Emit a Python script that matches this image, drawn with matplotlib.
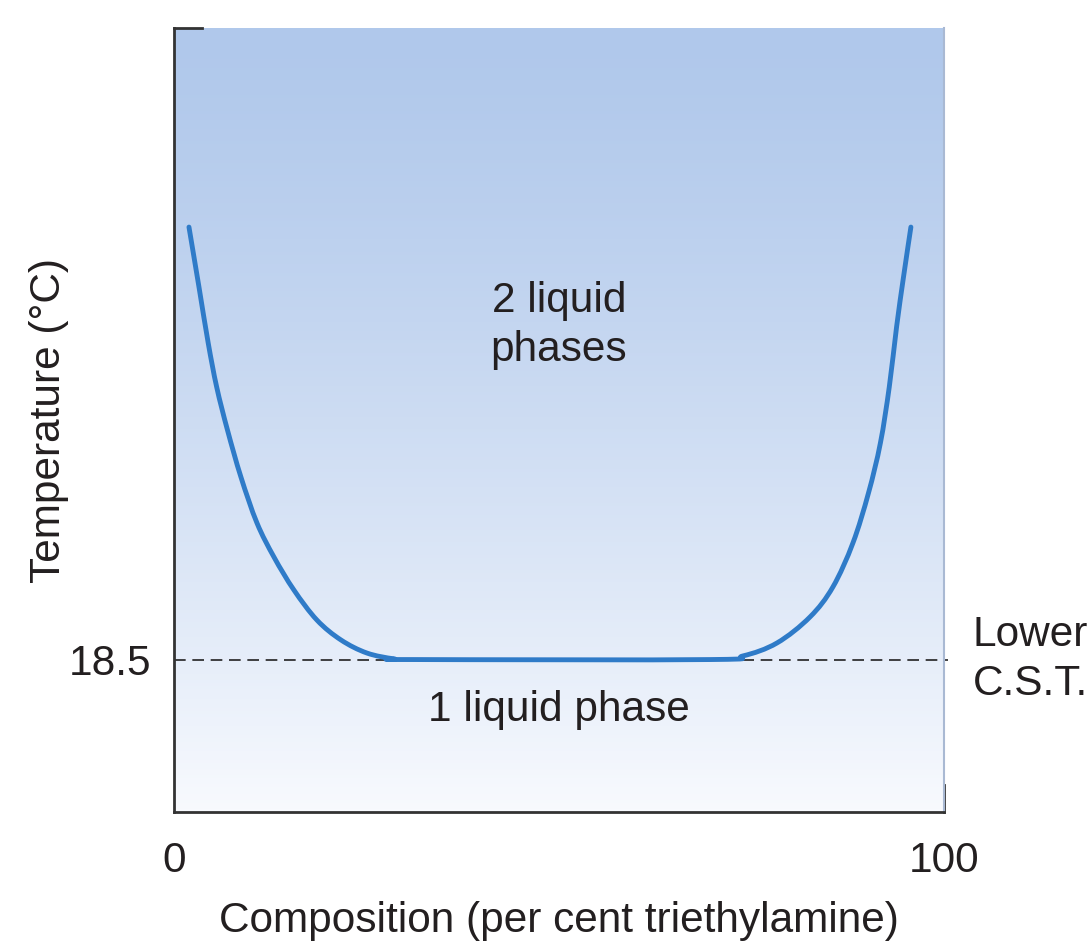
import numpy as np
import matplotlib.pyplot as plt
from matplotlib.path import Path
from matplotlib.patches import PathPatch

plt.rcParams['font.family'] = ['Liberation Sans', 'DejaVu Sans']

# coexistence curve (composition %, temperature in plot units)
comp_left = [1.95, 3.25, 4.45, 5.55, 6.95, 8.70, 10.78, 12.99, 15.58, 18.57, 21.69, 25.06, 28.57, 31.17]
temp_left = [48.29, 44.16, 40.30, 37.27, 34.31, 31.07, 27.91, 25.56, 23.29, 21.22, 19.85, 18.95, 18.55, 18.5]
comp_right = [69.61, 73.90, 78.31, 82.60, 85.58, 88.18, 90.20, 91.75, 92.90, 93.85, 94.75, 95.71]
temp_right = [18.5, 18.75, 19.64, 21.43, 23.50, 26.53, 29.97, 33.42, 37.27, 41.41, 44.85, 48.29]

lcst = 18.5
x_ticks = [0, 100]
x_ticklabels = ['0', '100']

FS = 30.5
TXT = '#231f20'

def smooth_path(xs, ys):
    # catmull-rom through the points, handed to matplotlib as cubic beziers
    p = np.column_stack([xs, ys])
    p = np.vstack([p[0], p, p[-1]])
    verts = [p[1]]
    codes = [Path.MOVETO]
    for i in range(1, len(p) - 2):
        c1 = p[i] + (p[i + 1] - p[i - 1]) / 6
        c2 = p[i + 1] - (p[i + 2] - p[i]) / 6
        verts += [c1, c2, p[i + 1]]
        codes += [Path.CURVE4] * 3
    return Path(verts, codes)

fig = plt.figure(figsize=(10.92, 9.41), dpi=100)
ax = fig.add_axes([0.1593, 0.1371, 0.7051, 0.8331])
ax.set_xlim(0, 100)
ax.set_ylim(8, 62)

# background gradient, blue at top fading to white
top = np.array([176, 200, 235]) / 255
bot = np.array([248, 250, 254]) / 255
t = np.linspace(0, 1, 256)[:, None] ** 1.3
grad = (top * (1 - t) + bot * t)[:, None, :]
ax.imshow(grad, extent=[0, 100, 8, 62], aspect='auto', zorder=0)

comp = comp_left + comp_right
temp = temp_left + temp_right
ax.add_patch(PathPatch(smooth_path(comp, temp), fill=False, edgecolor='#2f7bc8',
                       lw=3.5, capstyle='round', joinstyle='round', zorder=3))

ax.plot([0, 100.5], [lcst, lcst], color='#222222', lw=1.2, dashes=(7, 4),
        clip_on=False, zorder=2)

ax.text(50, 41.5, '2 liquid\nphases', ha='center', va='center', fontsize=FS,
        color=TXT, linespacing=1.3)
ax.text(50, 15.0, '1 liquid phase', ha='center', va='center', fontsize=FS,
        color=TXT)
ax.text(103.7, lcst, 'Lower\nC.S.T.', ha='left', va='center', fontsize=FS,
        color=TXT, linespacing=1.3)

ax.set_xticks(x_ticks)
ax.set_xticklabels(x_ticklabels)
ax.set_yticks([lcst])
ax.set_yticklabels(['18.5'])
ax.tick_params(length=0, labelsize=FS, colors=TXT)
ax.tick_params(axis='x', pad=21)
ax.tick_params(axis='y', pad=16)

ax.set_xlabel('Composition (per cent triethylamine)', fontsize=FS, color=TXT, labelpad=14)
ax.set_ylabel('Temperature (°C)', fontsize=FS, color=TXT, labelpad=0)

for s in ['left', 'bottom']:
    ax.spines[s].set_color('#333333')
    ax.spines[s].set_linewidth(2)
ax.spines['top'].set_visible(False)
ax.spines['right'].set_color('#a9b9d3')
ax.spines['right'].set_linewidth(1.5)
# short dark stubs seen on the frame
ax.plot([0, 0.036], [1, 1], transform=ax.transAxes, color='#333333', lw=2, clip_on=False)
ax.plot([1, 1], [0, 0.034], transform=ax.transAxes, color='#333333', lw=2, clip_on=False)

fig.savefig('out.png', dpi=100)
